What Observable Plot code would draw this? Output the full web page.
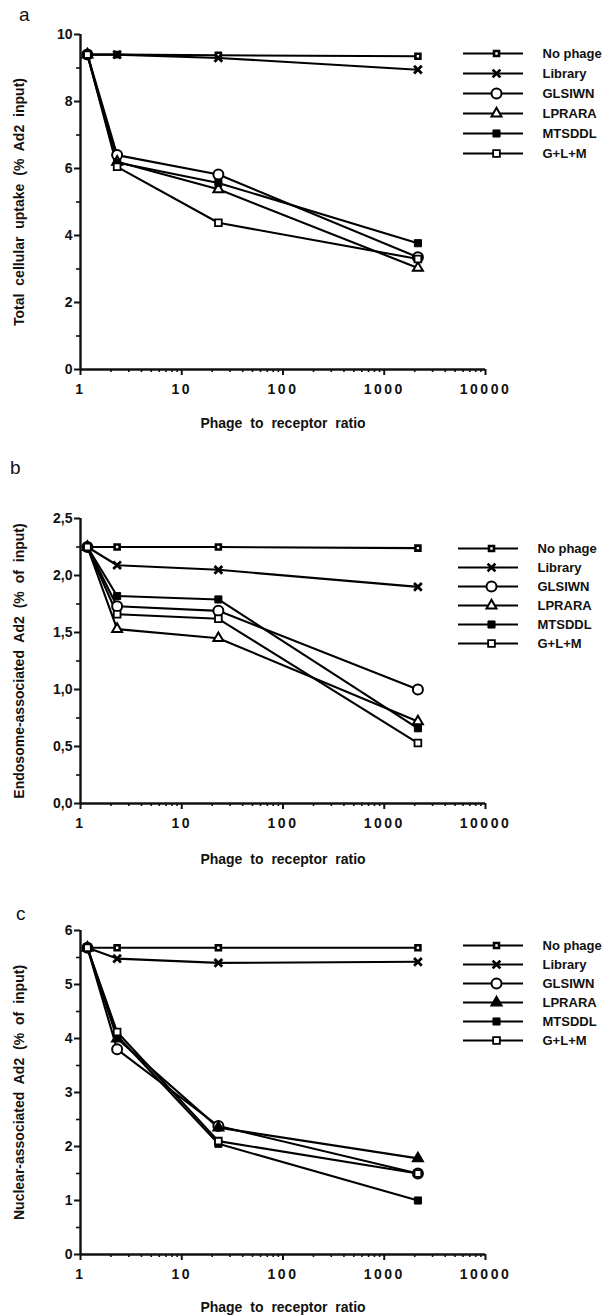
<!DOCTYPE html>
<html><head><meta charset="utf-8">
<script src="https://cdn.jsdelivr.net/npm/d3@7"></script>
<script src="https://cdn.jsdelivr.net/npm/@observablehq/plot@0.6"></script>
<style>
body{margin:0;background:#fff;}
#root{position:relative;width:604px;height:1316px;font-family:"Liberation Sans",Arial,sans-serif;color:#111;overflow:hidden;}
.box{position:absolute;left:0;}
.letter{position:absolute;font-size:19px;line-height:1;}
.legend{position:absolute;}
svg{display:block;}
g[aria-label="x-axis tick label"] text{letter-spacing:2.5px;}
g[aria-label="x-axis label"] text, g[aria-label="y-axis label"] text{word-spacing:4px;}
</style></head><body><div id="root"></div>
<script>
// ---------- data ----------
const seriesNames = ["No phage", "Library", "GLSIWN", "LPRARA", "MTSDDL", "G+L+M"];
const ratios = [1.17, 2.3, 23, 2150];               // phage to receptor ratio
const xTickValues = [1, 10, 100, 1000, 10000];

// panel a: total cellular uptake (% Ad2 input), rows follow seriesNames
const totalUptake = [
  [9.4, 9.4, 9.38, 9.35],
  [9.4, 9.4, 9.30, 8.95],
  [9.4, 6.4, 5.82, 3.35],
  [9.4, 6.2, 5.38, 3.03],
  [9.4, 6.18, 5.57, 3.77],
  [9.4, 6.05, 4.38, 3.30]
];
// panel b: endosome-associated Ad2 (% of input)
const endosomeAd2 = [
  [2.25, 2.25, 2.25, 2.24],
  [2.25, 2.09, 2.05, 1.90],
  [2.25, 1.73, 1.69, 1.00],
  [2.25, 1.53, 1.45, 0.72],
  [2.25, 1.82, 1.79, 0.66],
  [2.25, 1.66, 1.62, 0.53]
];
// panel c: nuclear-associated Ad2 (% of input)
const nuclearAd2 = [
  [5.68, 5.68, 5.68, 5.68],
  [5.68, 5.48, 5.40, 5.42],
  [5.68, 3.80, 2.38, 1.50],
  [5.68, 4.00, 2.35, 1.78],
  [5.68, 4.05, 2.05, 1.00],
  [5.68, 4.12, 2.10, 1.50]
];
const yTicksA = [0, 2, 4, 6, 8, 10];
const yMinorA = [1, 3, 5, 7, 9];
const yTicksB = [0, 0.5, 1, 1.5, 2, 2.5];
const yMinorB = [0.25, 0.75, 1.25, 1.75, 2.25];
const yTicksC = [0, 1, 2, 3, 4, 5, 6];
const yMinorC = [0.5, 1.5, 2.5, 3.5, 4.5, 5.5];

// ---------- styles ----------
const baseStyles = [
  {symbol: "square",   r: 2.8, fill: "white", sw: 2.6},
  {symbol: "times",    r: 3.6, fill: "none",  sw: 2.8},
  {symbol: "circle",   r: 5.0, fill: "white", sw: 2.0},
  {symbol: "triangle", r: 3.7, fill: "white", sw: 2.0},
  {symbol: "square",   r: 4.0, fill: "black", sw: 1.0},
  {symbol: "square",   r: 3.8, fill: "white", sw: 1.8}
];
const stylesC = baseStyles.map((s, i) => i === 3 ? {...s, fill: "black"} : s);

const FONT = '"Liberation Sans", Arial, sans-serif';
const root = document.getElementById("root");

function tidy(values) {
  return seriesNames.flatMap((s, i) => ratios.map((r, j) => ({series: s, ratio: r, value: values[i][j]})));
}
const xMinor = [1, 10, 100, 1000].flatMap(d => d3.range(2, 10).map(k => k * d));

function panel(o) {
  const data = tidy(o.values);
  const dots = seriesNames.map((s, i) => Plot.dot(data.filter(d => d.series === s), {
    x: "ratio", y: "value", symbol: o.styles[i].symbol, r: o.styles[i].r,
    fill: o.styles[i].fill, stroke: "black", strokeWidth: o.styles[i].sw
  }));
  const chart = Plot.plot({
    width: 604, height: o.height,
    marginLeft: 80, marginRight: 119, marginTop: o.mt, marginBottom: o.height - o.mt - o.plotH,
    style: {fontFamily: FONT, fontSize: "14px", color: "#111", background: "white"},
    x: {type: "log", domain: [1, 10000]},
    y: {domain: o.yDomain},
    marks: [
      Plot.axisX({ticks: xTickValues, tickSize: 6, tickPadding: 9, strokeWidth: 2, fontWeight: "bold",
        tickFormat: d => String(d), label: "Phage to receptor ratio", labelAnchor: "center",
        labelArrow: "none", labelOffset: o.xLabelOffset}),
      Plot.axisX({ticks: xMinor, tickSize: 3, strokeWidth: 1.6, tickFormat: () => "", label: null}),
      Plot.axisY({ticks: o.yTicks, tickSize: 6, tickPadding: 2, strokeWidth: 2, fontWeight: "bold",
        tickFormat: o.yFormat, label: o.yLabel, labelAnchor: "center", labelArrow: "none", labelOffset: 66}),
      Plot.axisY({ticks: o.yMinor, tickSize: 4, strokeWidth: 1.6, tickFormat: () => "", label: null}),
      Plot.ruleY([o.yDomain[0]], {strokeWidth: 2.4}),
      Plot.ruleX([1], {strokeWidth: 2.4}),
      Plot.line(data, {x: "ratio", y: "value", z: "series", stroke: "black", strokeWidth: 2.1}),
      ...dots
    ]
  });
  const box = document.createElement("div");
  box.className = "box";
  box.style.top = o.top + "px";
  box.appendChild(chart);
  root.appendChild(box);

  const letter = document.createElement("div");
  letter.className = "letter";
  letter.textContent = o.letter;
  letter.style.left = o.letterPos[0] + "px";
  letter.style.top = o.letterPos[1] + "px";
  root.appendChild(letter);

  // legend
  const lg = Plot.plot({
    width: 149, height: o.legendStep * 5 + 20,
    marginLeft: 0, marginRight: 0, marginTop: 10, marginBottom: 10,
    style: {fontFamily: FONT, fontSize: "13px", color: "#111", background: "transparent"},
    x: {domain: [0, 1], range: [o.legendX[0], o.legendX[1]]},
    y: {type: "point", domain: seriesNames, range: [10, 10 + o.legendStep * 5]},
    axis: null,
    marks: [
      Plot.ruleY(seriesNames, {y: d => d, x1: 0, x2: 1, stroke: "black", strokeWidth: 1.8}),
      ...seriesNames.map((s, i) => Plot.dot([s], {
        y: d => d, x: 0.55, symbol: o.styles[i].symbol, r: o.styles[i].r,
        fill: o.styles[i].fill, stroke: "black", strokeWidth: o.styles[i].sw
      })),
      Plot.text(seriesNames, {y: d => d, x: 1, text: d => d, textAnchor: "start", dx: 19,
        fontWeight: "bold", letterSpacing: "-0.5px"})
    ]
  });
  const lgBox = document.createElement("div");
  lgBox.className = "legend";
  lgBox.style.left = o.legendLeft + "px";
  lgBox.style.top = o.legendTop + "px";
  lgBox.appendChild(lg);
  root.appendChild(lgBox);
}

panel({
  values: totalUptake, styles: baseStyles, top: 0, height: 440, mt: 34, plotH: 335, xLabelOffset: 58,
  yDomain: [0, 10], yTicks: yTicksA, yMinor: yMinorA, yFormat: d => String(d),
  yLabel: "Total cellular uptake (% Ad2 input)", letter: "a", letterPos: [19, 5],
  legendLeft: 455, legendTop: 33, legendX: [8, 68], legendStep: 24
});
panel({
  values: endosomeAd2, styles: baseStyles, top: 440, height: 430, mt: 78, plotH: 285, xLabelOffset: 60,
  yDomain: [0, 2.5], yTicks: yTicksB, yMinor: yMinorB, yFormat: d => d.toFixed(1).replace(".", ","),
  yLabel: "Endosome-associated Ad2 (% of input)", letter: "b", letterPos: [10, 458],
  legendLeft: 452, legendTop: 528, legendX: [6, 66], legendStep: 23
});
panel({
  values: nuclearAd2, styles: stylesC, top: 870, height: 446, mt: 60, plotH: 324, xLabelOffset: 57,
  yDomain: [0, 6], yTicks: yTicksC, yMinor: yMinorC, yFormat: d => String(d),
  yLabel: "Nuclear-associated Ad2 (% of input)", letter: "c", letterPos: [16, 904],
  legendLeft: 455, legendTop: 925, legendX: [8, 68], legendStep: 23
});
</script></body></html>
